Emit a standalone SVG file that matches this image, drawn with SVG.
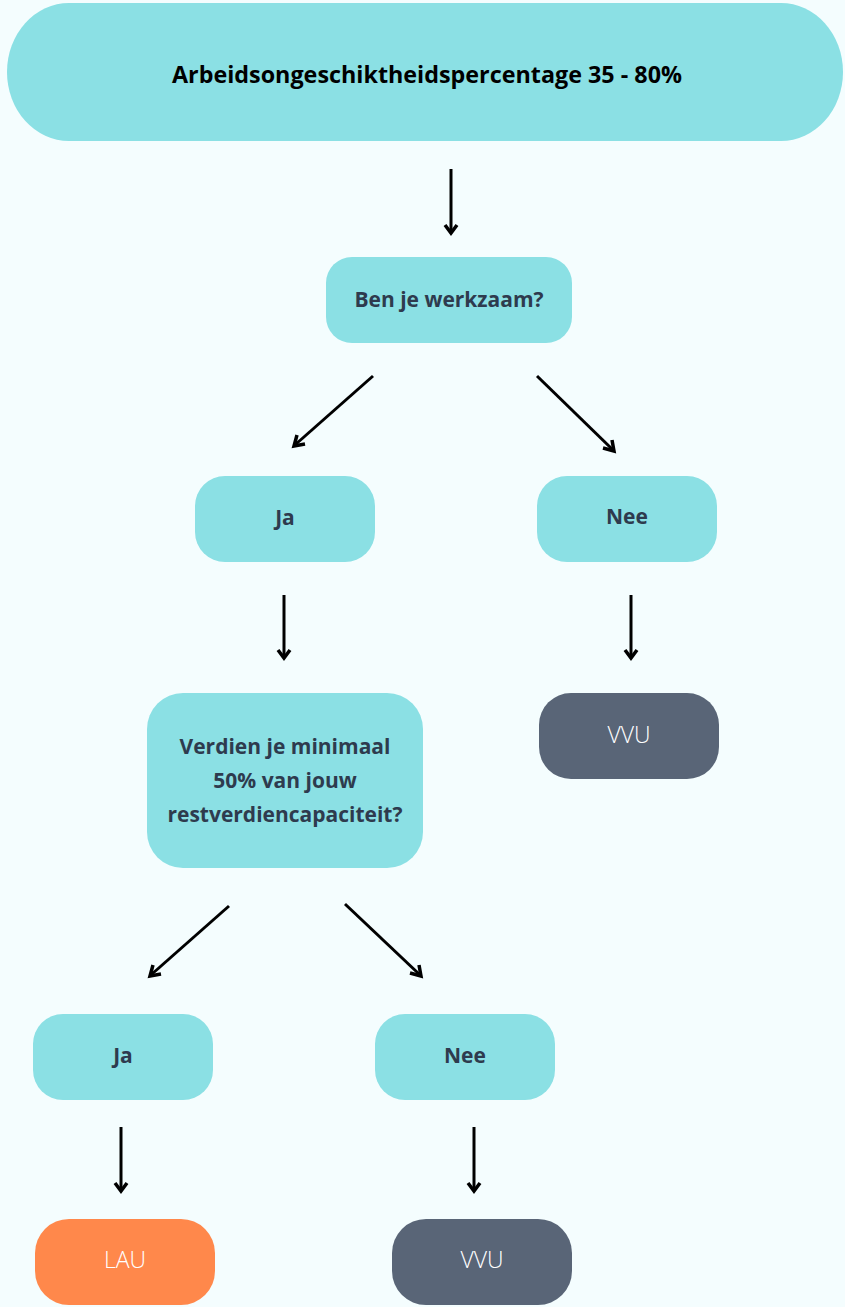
<svg xmlns="http://www.w3.org/2000/svg" width="845" height="1307" viewBox="0 0 845 1307">
<style>
.n{fill:#8BE0E4}
.d{fill:#596577}
.o{fill:#FF884B}
.t{font-family:"Open Sans","Liberation Sans",Arial,sans-serif;font-weight:bold;font-size:21px;fill:#2E3B4E;text-anchor:middle}
.w{font-family:"Open Sans","Liberation Sans",sans-serif;font-weight:300;font-size:23px;fill:#FFFFFF;text-anchor:middle}
.c line{stroke:#000;stroke-width:3}
.c path{fill:none;stroke:#000;stroke-width:3.5;stroke-linejoin:miter}
</style>
<rect width="845" height="1307" fill="#F4FDFE"/>
<g id="n-top"><rect class="n" x="7" y="3" width="836" height="138" rx="62" ry="69"/><text class="t" x="427" y="83" style="fill:#000;font-size:23px" textLength="510" lengthAdjust="spacingAndGlyphs">Arbeidsongeschiktheidspercentage 35 - 80%</text></g>
<g id="n-werkzaam"><rect class="n" x="326" y="257" width="246" height="86" rx="26"/><text class="t" x="449" y="307">Ben je werkzaam?</text></g>
<g id="n-ja1"><rect class="n" x="195" y="476" width="180" height="86" rx="30"/><text class="t" x="285" y="525">Ja</text></g>
<g id="n-nee1"><rect class="n" x="537" y="476" width="180" height="86" rx="30"/><text class="t" x="627" y="524">Nee</text></g>
<g id="n-vvu1"><rect class="d" x="539" y="693" width="180" height="86" rx="32"/><text class="w" x="629" y="743">VVU</text></g>
<g id="n-verdien"><rect class="n" x="147" y="693" width="276" height="175" rx="36"/><text class="t" x="285" y="754">Verdien je minimaal</text><text class="t" x="285" y="788">50% van jouw</text><text class="t" x="285" y="822">restverdiencapaciteit?</text></g>
<g id="n-ja2"><rect class="n" x="33" y="1014" width="180" height="86" rx="30"/><text class="t" x="123" y="1063">Ja</text></g>
<g id="n-nee2"><rect class="n" x="375" y="1014" width="180" height="86" rx="30"/><text class="t" x="465" y="1063">Nee</text></g>
<g id="n-lau"><rect class="o" x="35" y="1219" width="180" height="86" rx="34"/><text class="w" x="125" y="1268">LAU</text></g>
<g id="n-vvu2"><rect class="d" x="392" y="1219" width="180" height="86" rx="34"/><text class="w" x="482" y="1268">VVU</text></g>
<g class="c" id="connectors">
<line x1="451" y1="169" x2="451" y2="233"/><path d="M445,225 L451,233 L457,225"/>
<line x1="373" y1="376" x2="296" y2="444"/><path d="M297,435 L294,446 L305,444"/>
<line x1="537" y1="376" x2="612" y2="449"/><path d="M603,448 L614,451 L612,440"/>
<line x1="284" y1="595" x2="284" y2="658"/><path d="M278,650 L284,658 L290,650"/>
<line x1="631" y1="595" x2="631" y2="658"/><path d="M625,650 L631,658 L637,650"/>
<line x1="229" y1="906" x2="152" y2="974"/><path d="M153,965 L150,976 L161,974"/>
<line x1="345" y1="904" x2="419" y2="974"/><path d="M410,973 L421,976 L419,965"/>
<line x1="121" y1="1127" x2="121" y2="1191"/><path d="M115,1183 L121,1191 L127,1183"/>
<line x1="474" y1="1127" x2="474" y2="1191"/><path d="M468,1183 L474,1191 L480,1183"/>
</g>
</svg>
